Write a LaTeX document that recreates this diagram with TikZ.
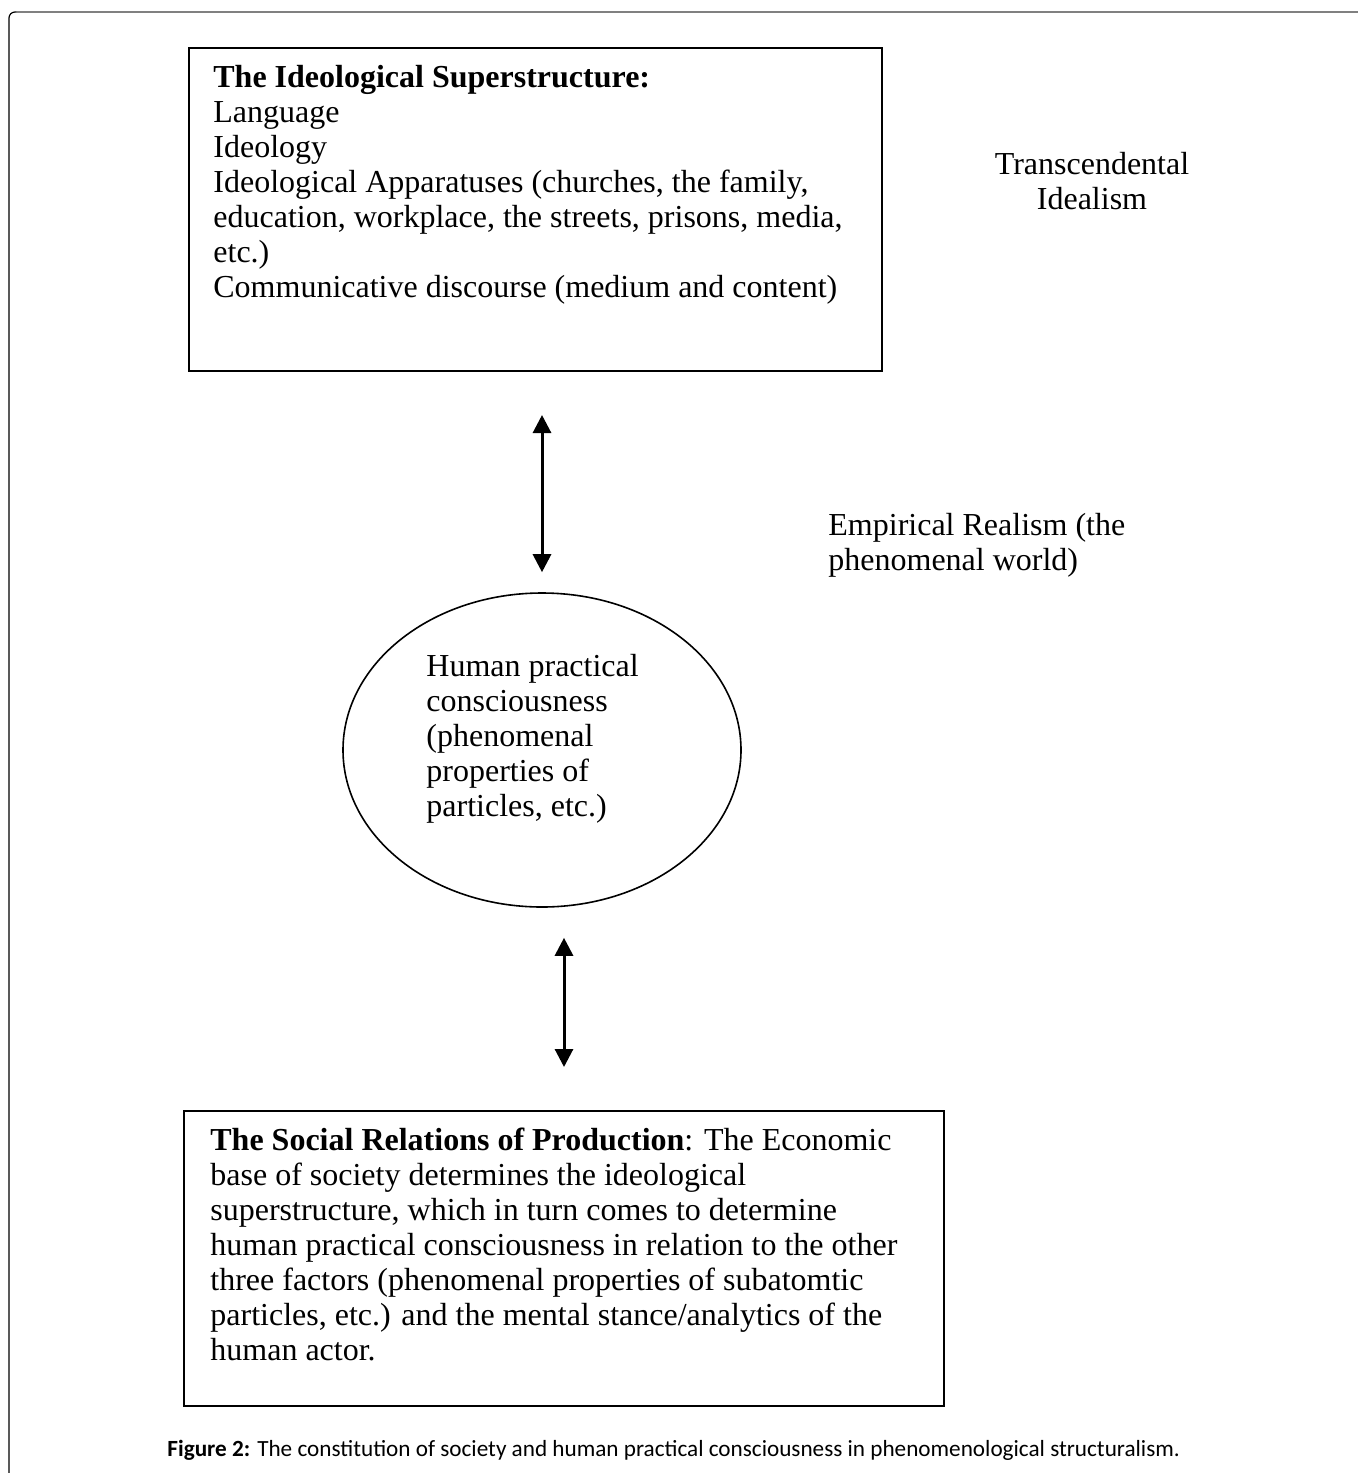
\documentclass[tikz,border=0pt]{standalone}
\usepackage{fontspec}
\setmainfont{Liberation Serif}
\newfontfamily\capfont{Carlito}
\usetikzlibrary{arrows.meta,shapes.geometric}

\begin{document}
\begin{tikzpicture}[x=0.5pt,y=-0.5pt,
  >={Triangle[length=9pt,width=9pt]},
  box/.style={draw,line width=1pt,inner sep=0pt},
  txt/.style={inner sep=0pt,align=left,font=\fontsize{16}{17.5}\selectfont},
  oval/.style={draw,ellipse,line width=0.8pt,inner sep=0pt,minimum width=199pt,minimum height=157pt},
  dbl/.style={<->,line width=1.5pt}]
  \useasboundingbox (0,0) rectangle (1358,1473);
  % page frame
  \draw[gray,line width=1pt] (1358,12) -- (16,12);
  \draw[line width=0.6pt,rounded corners=3pt] (16,12) -- (9,12) -- (9,1473);
  % superstructure
  \node[box,anchor=north west,minimum width=346.5pt,minimum height=161.5pt] (ideo) at (188,47) {};
  \node[txt,anchor=north west] (ideotxt) at (213,65) {\textbf{The Ideological Superstructure:}\\
    Language\\
    Ideology\\
    Ideological Apparatuses (churches, the family,\\
    education, workplace, the streets, prisons, media,\\
    etc.)\\
    Communicative discourse (medium and content)};
  \node[txt,align=center] (transc) at (1092,181) {Transcendental\\Idealism};
  \node[txt,anchor=west] (empir) at (828,545) {Empirical Realism (the\\phenomenal world)};
  % consciousness
  \node[oval] (human) at (542,750) {};
  \node[txt,anchor=west] (humantxt) at (426,739) {Human practical\\
    consciousness\\
    (phenomenal\\
    properties of\\
    particles, etc.)};
  % base
  \node[box,anchor=north west,minimum width=380pt,minimum height=147.5pt] (social) at (183,1110) {};
  \node[txt,anchor=north west] (socialtxt) at (210,1128) {\textbf{The Social Relations of Production}: The Economic\\
    base of society determines the ideological\\
    superstructure, which in turn comes to determine\\
    human practical consciousness in relation to the other\\
    three factors (phenomenal properties of subatomtic\\
    particles, etc.) and the mental stance/analytics of the\\
    human actor.};
  % arrows
  \draw[dbl,shorten <=21.5pt,shorten >=10pt] (ideo.south -| human.north) -- (human.north);
  \draw[dbl,shorten <=15pt,shorten >=21.5pt] (human.south -| social.north) -- (social.north);
  % caption
  \node[anchor=west,inner sep=0pt,font=\capfont\fontsize{11.6}{14}\selectfont] (caption) at (167,1450)
    {\textbf{Figure 2:} The constitution of society and human practical consciousness in phenomenological structuralism.};
\end{tikzpicture}
\end{document}
